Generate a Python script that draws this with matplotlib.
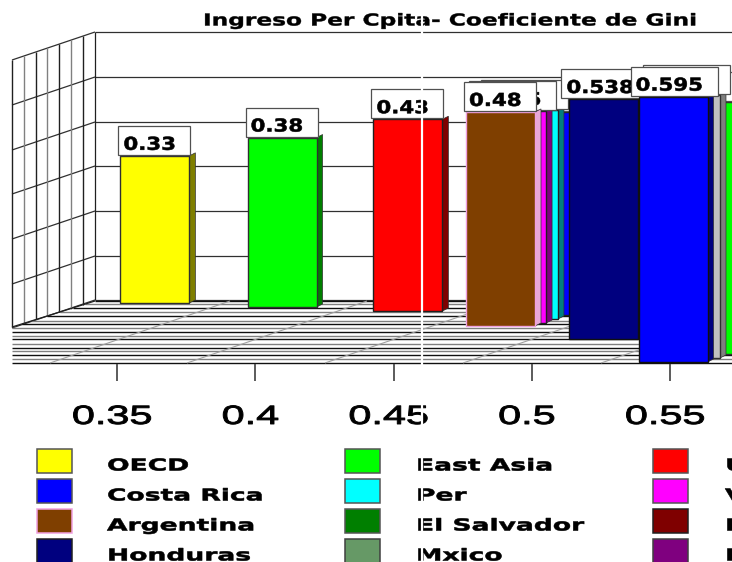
import matplotlib
matplotlib.use("Agg")
import matplotlib.pyplot as plt
from matplotlib.patches import Rectangle, Polygon
from matplotlib.patheffects import AbstractPathEffect
from matplotlib.transforms import Affine2D, ScaledTranslation

W, H = 732, 562

# ---- data -------------------------------------------------------------
title = "Ingreso Per Cpita- Coeficiente de Gini"
tick_values = [0.35, 0.4, 0.45, 0.5, 0.55]
tick_labels = ["0.35", "0.4", "0.45", "0.5", "0.55"]

# bars, back to front (3-D depth order)
bar_values = [0.33, 0.38, 0.43, 0.455, 0.468, 0.475, 0.48, 0.538, 0.566, 0.59, 0.595]
bar_labels = ["0.33", "0.38", "0.43", "", "", "0.475", "0.48", "0.538", "", "", "0.595"]
bar_x = [0.3637, 0.4097, 0.4552, 0.5014, 0.4970, 0.4927, 0.4887, 0.5261, 0.5625, 0.5556, 0.5511]
bar_base = [0.1368, 0.1278, 0.1188, 0.1099, 0.1009, 0.0919, 0.0852, 0.0561, 0.0224, 0.0135, 0.0045]
bar_front = ["#ffff00", "#00ff00", "#ff0000", "#0000ff", "#00ffff", "#ff00ff",
             "#7f3f00", "#00007f", "#00ff00", "#c0c0c0", "#0000ff"]
bar_side = ["#7f7f00", "#007f00", "#7f0000", "#00007f", "#007f7f", "#7f007f",
            "#e8a8d8", "#00007f", "#007f00", "#7f7f7f", "#00007f"]
bar_edge = ["#303030", "#303030", "#202020", "#202020", "#202020", "#202020",
            "#f0a0e0", "#101010", "#303030", "#303030", "#101010"]

legend_names = ["OECD", "Costa Rica", "Argentina", "Honduras",
                "East Asia", "Per", "El Salvador", "Mxico",
                "Uruguay", "Venezuela", "Ecuador", "Paraguay"]
legend_colors = ["#ffff00", "#0000ff", "#7f3f00", "#00007f",
                 "#00ff00", "#00ffff", "#007f00", "#669966",
                 "#ff0000", "#ff00ff", "#7f0000", "#7f007f"]
legend_edges = ["#555555", "#555555", "#f0a0e0", "#202020",
                "#555555", "#555555", "#555555", "#404040",
                "#555555", "#555555", "#202020", "#404040"]


class Stretch(AbstractPathEffect):
    """Widen a text's glyphs about a fixed x and thicken them slightly."""

    def __init__(self, x0, sx, stroke=0.0):
        super().__init__()
        self.x0, self.sx, self.stroke = x0, sx, stroke

    def draw_path(self, renderer, gc, tpath, affine, rgbFace=None):
        extra = Affine2D().translate(-self.x0, 0).scale(self.sx, 1).translate(self.x0, 0)
        gc0 = renderer.new_gc()
        gc0.copy_properties(gc)
        gc0.set_linewidth(self.stroke)
        gc0.set_foreground("black")
        renderer.draw_path(gc0, tpath, affine + extra, rgbFace)
        gc0.restore()


# ---- figure -------------------------------------------------------------
fig = plt.figure(figsize=(W / 100, H / 100), dpi=100, facecolor="white")
axis_y = 364
ax = fig.add_axes([0, (H - axis_y) / H, 1, axis_y / H])
ax.patch.set_visible(False)
for s in ax.spines.values():
    s.set_visible(False)

x_per_px = 1 / 2765
y_per_px = 1 / 446
ax.set_xlim(0.35 - 117 * x_per_px, 0.35 + (W - 117) * x_per_px)
ax.set_ylim(0, axis_y * y_per_px)
ax.set_yticks([])
ax.set_xticks(tick_values)
ax.set_xticklabels(tick_labels, fontsize=19, family="Liberation Sans", color="black")
ax.tick_params(axis="x", length=12.5, width=1.2, color="#404040", pad=17)
shift = ScaledTranslation(-5 / 100, 0, fig.dpi_scale_trans)
for lab, tv in zip(ax.get_xticklabels(), tick_values):
    lab.set_transform(lab.get_transform() + shift)
    lab.set_path_effects([Stretch(ax.transData.transform((tv, 0))[0] - 5, 1.57, 0.7)])

px = Affine2D().scale(1, -1).translate(0, H)


def line(xs, ys, color="#202020", lw=1.0, z=1):
    ax.plot(xs, ys, color=color, lw=lw, transform=px, clip_on=False, zorder=z,
            solid_capstyle="butt")


# ---- back wall and side wall ----------------------------------------------
wall_y = [32, 77, 122, 166, 211, 256, 300]
for yy in wall_y:
    line([95, W], [yy, yy], "#303030", 0.9)
for i, yy in enumerate(wall_y):
    line([12, 95], [yy + 28, yy], "#303030", 0.9)
line([95, 95], [32, 300], "#202020", 0.9)
for i, xx in enumerate([12, 24, 36, 47, 59, 71, 83]):
    t = (xx - 12) / 83
    line([xx, xx], [60 - 28 * t, 327 - 26 * t], "#202020" if i % 2 == 0 else "#808080", 1.0)

# ---- floor ---------------------------------------------------------------
floor_y = [301, 304, 308, 312, 316, 321, 324, 328, 332, 336, 339, 344, 348, 351, 355, 359, 363]
for i, yy in enumerate(floor_y):
    x0 = max(12, 95 - (yy - 301) * 83 / 26)
    line([x0, W], [yy, yy], "#101010" if i % 2 == 0 else "#808080", 1.0)
line([12, 95], [327, 301], "#202020", 0.9)
for x0 in [50, 187, 325, 463, 601]:
    line([x0, x0 + 180], [363, 301], "#a0a0a0", 0.8, z=1.5)

# ---- bars ----------------------------------------------------------------
bw = 69 * x_per_px
dx, dy = 6 * x_per_px, 3 * y_per_px
for i, (v, x, b) in enumerate(zip(bar_values, bar_x, bar_base)):
    z = 3 + i
    r = x + bw / 2
    top = b + v
    ax.add_patch(Polygon([(r, b), (r + dx, b + dy), (r + dx, top + dy), (r, top)],
                         closed=True, facecolor=bar_side[i], edgecolor="#303030",
                         lw=0.5, zorder=z))
    ax.bar(x, v, bw, bottom=b, color=bar_front[i], edgecolor=bar_edge[i], lw=1.0, zorder=z + 0.1)
    # value label box
    label = bar_labels[i]
    long = (len(label) > 4) or not label
    box_x = x - bw / 2 - (8 if long else 2) * x_per_px
    box_w = (87 if long else 72) * x_per_px
    ax.add_patch(Rectangle((box_x, top + 1 * y_per_px), box_w, 29 * y_per_px,
                           facecolor="white", edgecolor="#505050", lw=0.9, zorder=z + 0.2,
                           clip_on=False))
    if label:
        tx = box_x + 5 * x_per_px
        t = ax.text(tx, top + 11 * y_per_px, label, fontsize=12.8,
                    fontweight="bold", family="DejaVu Sans", va="center", ha="left",
                    zorder=z + 0.3, clip_on=True)
        t.set_path_effects([Stretch(ax.transData.transform((tx, 0))[0], 1.2, 0.4)])

# ---- title ---------------------------------------------------------------
ttext = ax.text(203, 21, title, transform=px, fontsize=11.8, fontweight="bold",
                family="DejaVu Sans", ha="left", va="center", clip_on=False, zorder=30)
ttext.set_path_effects([Stretch(203, 1.42, 0.3)])

# ---- legend ----------------------------------------------------------------
col_x = [37, 345, 653]
text_x = [107, 416, 725]
row_y = [449, 479, 509, 539]
for i, (name, c, e) in enumerate(zip(legend_names, legend_colors, legend_edges)):
    col, row = divmod(i, 4)
    ax.add_patch(Rectangle((col_x[col], row_y[row]), 35, 24, transform=px, facecolor=c,
                           edgecolor=e, lw=1.1, clip_on=False, zorder=20))
    lt = ax.text(text_x[col], row_y[row] + 17, name, transform=px, fontsize=11.8,
                 fontweight="bold", family="DejaVu Sans", va="center", ha="left",
                 clip_on=False, zorder=20)
    lt.set_path_effects([Stretch(text_x[col], 1.62, 0.4)])

# ---- white rendering seam ---------------------------------------------------
line([421.5, 421.5], [0, H], "white", 1.6, z=40)

fig.savefig("out.png", dpi=100, facecolor="white")
